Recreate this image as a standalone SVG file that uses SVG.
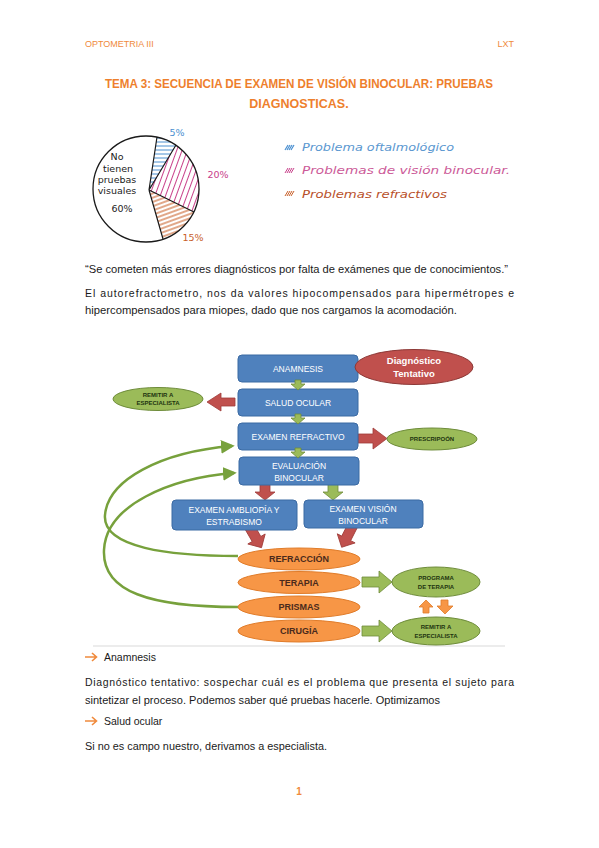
<svg xmlns="http://www.w3.org/2000/svg" width="599" height="848" viewBox="0 0 599 848">
<defs>
<style>
.hdr{font-family:"Liberation Sans",Arial,sans-serif;font-size:9px;fill:#F08A3C}
.ttl{font-family:"Liberation Sans",Arial,sans-serif;font-size:12.5px;font-weight:bold;fill:#EE7F2D;text-anchor:middle}
.body{font-family:"Liberation Sans",Arial,sans-serif;font-size:10.5px;fill:#1a1a1a}
.hand{font-family:"DejaVu Sans",sans-serif;font-size:9.5px;fill:#222;text-anchor:middle}
.leg{font-family:"DejaVu Sans",sans-serif;font-size:10px;font-style:italic}
.box{fill:#4F81BD;stroke:#3B6AA3;stroke-width:1}
.btxt{font-family:"Liberation Sans",Arial,sans-serif;font-size:8.5px;fill:#fff;text-anchor:middle}
.gell{fill:#9BBB59;stroke:#6E8C3A;stroke-width:1}
.gtxt{font-family:"Liberation Sans",Arial,sans-serif;font-size:6px;font-weight:bold;fill:#1E3410;text-anchor:middle}
.oell{fill:#F79646;stroke:#E07C2A;stroke-width:1}
.otxt{font-family:"Liberation Sans",Arial,sans-serif;font-size:9px;font-weight:bold;fill:#4A2A1C;text-anchor:middle}
.red{fill:#C0504D;stroke:#9E3B38;stroke-width:0.8}
.grn{fill:#9BBB59;stroke:#6E8C3A;stroke-width:0.8}
.org{fill:#F79646;stroke:#E07C2A;stroke-width:0.8}
.curve{fill:none;stroke:#77A13C;stroke-width:2.5}
.bul{fill:none;stroke:#F08A3C;stroke-width:1.6}
</style>
<pattern id="hb" width="6" height="4" patternUnits="userSpaceOnUse"><line x1="0" y1="2" x2="6" y2="2" stroke="#4A8FD0" stroke-width="1"/></pattern>
<pattern id="hp" width="5" height="6" patternUnits="userSpaceOnUse" patternTransform="rotate(20)"><line x1="2.5" y1="0" x2="2.5" y2="6" stroke="#C8408A" stroke-width="1"/></pattern>
<pattern id="ho" width="6" height="4" patternUnits="userSpaceOnUse" patternTransform="rotate(-20)"><line x1="0" y1="2" x2="6" y2="2" stroke="#C8602A" stroke-width="1.1"/></pattern>
<marker id="ga" viewBox="0 0 10 10" refX="8" refY="5" markerWidth="5.5" markerHeight="5.5" orient="auto" markerUnits="strokeWidth"><path d="M0,0 L10,5 L0,10 Z" fill="#77A13C"/></marker>
<path id="darr" d="M-3,0 L3,0 L3,4 L7,4 L0,10 L-7,4 L-3,4 Z"/>
<path id="bigd" d="M-5,0 L5,0 L5,8 L10,8 L0,16 L-10,8 L-5,8 Z"/>
<path id="diag" d="M-5,0 L5,0 L5,15 L10,15 L0,25 L-10,15 L-5,15 Z"/>
</defs>
<rect width="599" height="848" fill="#fff"/>

<!-- header -->
<text class="hdr" x="85" y="47">OPTOMETRIA III</text>
<text class="hdr" x="514" y="47" text-anchor="end">LXT</text>
<text class="ttl" x="299" y="88" textLength="388" lengthAdjust="spacingAndGlyphs">TEMA 3: SECUENCIA DE EXAMEN DE VISIÓN BINOCULAR: PRUEBAS</text>
<text class="ttl" x="299" y="108">DIAGNOSTICAS.</text>

<!-- pie chart -->
<g id="pie">
<path d="M149,190 L157,137 A53,53 0 0 1 176,145 Z" fill="url(#hb)"/>
<path d="M149,190 L176,145 A53,53 0 0 1 194,212 Z" fill="url(#hp)"/>
<path d="M149,190 L194,212 A53,53 0 0 1 163,239 Z" fill="url(#ho)"/>
<circle cx="146" cy="189" r="53" fill="none" stroke="#1a1a1a" stroke-width="1.3"/>
<path d="M157,137 L149,190 L176,145 M149,190 L194,212 M149,190 L163,239" fill="none" stroke="#1a1a1a" stroke-width="1.2"/>
<text class="hand" x="117" y="160">No</text>
<text class="hand" x="118" y="172">tienen</text>
<text class="hand" x="117" y="183">pruebas</text>
<text class="hand" x="117" y="194">visuales</text>
<text class="hand" x="122" y="212">60%</text>
<text class="hand" x="177" y="136" style="fill:#4A8FD0">5%</text>
<text class="hand" x="218" y="178" style="fill:#C8408A">20%</text>
<text class="hand" x="193" y="241" style="fill:#C8602A">15%</text>
</g>

<!-- legend -->
<g id="legend">
<path d="M285,150 l3,-5 M287,150 l3,-5 M289,150 l3,-5 M291,150 l3,-5" stroke="#4A8FD0" stroke-width="1.2"/>
<text class="leg" x="302" y="151" fill="#5A97D0" textLength="152" lengthAdjust="spacingAndGlyphs">Problema oftalmológico</text>
<path d="M285,173 l3,-5 M287,173 l3,-5 M289,173 l3,-5 M291,173 l3,-5" stroke="#C8408A" stroke-width="1"/>
<text class="leg" x="302" y="174" fill="#CC5A98" textLength="208" lengthAdjust="spacingAndGlyphs">Problemas de visión binocular.</text>
<path d="M285,196 l3,-5 M287,196 l3,-5 M289,196 l3,-5 M291,196 l3,-5" stroke="#C8602A" stroke-width="1"/>
<text class="leg" x="302" y="198" fill="#B8502A" textLength="145" lengthAdjust="spacingAndGlyphs">Problemas refractivos</text>
</g>

<!-- paragraphs -->
<text class="body" x="85" y="273" textLength="423" lengthAdjust="spacingAndGlyphs">“Se cometen más errores diagnósticos por falta de exámenes que de conocimientos.”</text>
<text class="body" x="85" y="297" textLength="429" lengthAdjust="spacing">El autorefractometro, nos da valores hipocompensados para hipermétropes e</text>
<text class="body" x="85" y="314" textLength="372" lengthAdjust="spacingAndGlyphs">hipercompensados para miopes, dado que nos cargamos la acomodación.</text>

<!-- flowchart bottom frame line -->
<line x1="93" y1="646" x2="505" y2="646" stroke="#e6e6e6" stroke-width="1.5"/>

<!-- connectors -->
<g id="connectors">
<path class="curve" d="M238,556 C170,556 102,548 105,515 C108,480 160,452 232,446" marker-end="url(#ga)"/>
<path class="curve" d="M238,607 C150,607 102,592 104,550 C106,505 170,478 234,473" marker-end="url(#ga)"/>
<path class="red" d="M235,398 L221,398 L221,393 L207,402 L221,411 L221,406 L235,406 Z"/>
<path class="red" d="M358,434 L373,434 L373,428 L387,438.5 L373,449 L373,443 L358,443 Z"/>
<use href="#bigd" class="red" transform="translate(265,484)"/>
<use href="#bigd" class="grn" transform="translate(333,484)"/>
<use href="#diag" class="red" transform="translate(249,526) rotate(-30)"/>
<use href="#diag" class="red" transform="translate(353,525) rotate(27)"/>
<path class="grn" d="M362,577 L379,577 L379,571 L392,582 L379,593 L379,587 L362,587 Z"/>
<path class="grn" d="M362,626 L379,626 L379,620 L392,631 L379,642 L379,636 L362,636 Z"/>
<path class="org" d="M423,613 L423,607 L419,607 L426,600 L433,607 L429,607 L429,613 Z"/>
<path class="org" d="M441,600 L441,606 L437,606 L445,614 L453,606 L448,606 L448,600 Z"/>
</g>

<!-- blue boxes -->
<g id="n-anamnesis"><rect class="box" x="238" y="355" width="120" height="27" rx="4"/><text class="btxt" x="298" y="372">ANAMNESIS</text></g>
<g id="n-salud"><rect class="box" x="238" y="389" width="120" height="27" rx="4"/><text class="btxt" x="298" y="406">SALUD OCULAR</text></g>
<g id="n-refractivo"><rect class="box" x="238" y="423" width="120" height="27" rx="4"/><text class="btxt" x="298" y="440">EXAMEN REFRACTIVO</text></g>
<g id="n-evaluacion"><rect class="box" x="239" y="457" width="120" height="28" rx="4"/><text class="btxt" x="299" y="469">EVALUACIÓN</text><text class="btxt" x="299" y="481">BINOCULAR</text></g>
<g id="n-ambliopia"><rect class="box" x="172" y="500" width="125" height="30" rx="4"/><text class="btxt" x="234" y="513">EXAMEN AMBLIOPÍA Y</text><text class="btxt" x="234" y="525">ESTRABISMO</text></g>
<g id="n-vision"><rect class="box" x="304" y="500" width="119" height="28" rx="4"/><text class="btxt" x="363" y="512">EXAMEN VISIÓN</text><text class="btxt" x="363" y="524">BINOCULAR</text></g>

<!-- small green arrows between boxes -->
<g id="box-arrows">
<use href="#darr" class="grn" transform="translate(298,380)"/>
<use href="#darr" class="grn" transform="translate(298,414)"/>
<use href="#darr" class="grn" transform="translate(298,448)"/>
</g>

<!-- ellipses -->
<g id="n-diagnostico"><ellipse cx="414" cy="367" rx="59" ry="17.5" fill="#C0504D" stroke="#8C3836" stroke-width="1"/><text x="414" y="364" font-family="Liberation Sans,Arial,sans-serif" font-size="9.5" font-weight="bold" fill="#fff" text-anchor="middle">Diagnóstico</text><text x="414" y="377" font-family="Liberation Sans,Arial,sans-serif" font-size="9.5" font-weight="bold" fill="#fff" text-anchor="middle">Tentativo</text></g>
<g id="n-remitir1"><ellipse class="gell" cx="158" cy="399" rx="45" ry="11.5"/><text class="gtxt" x="158" y="397">REMITIR A</text><text class="gtxt" x="158" y="405">ESPECIALISTA</text></g>
<g id="n-prescripcion"><ellipse class="gell" cx="432" cy="439" rx="45" ry="11"/><text class="gtxt" x="432" y="441">PRESCRIPOÓN</text></g>
<g id="n-refraccion"><ellipse class="oell" cx="299" cy="559" rx="61" ry="11"/><text class="otxt" x="299" y="562">REFRACCIÓN</text></g>
<g id="n-terapia"><ellipse class="oell" cx="299" cy="582.5" rx="61" ry="11"/><text class="otxt" x="299" y="586">TERAPIA</text></g>
<g id="n-prismas"><ellipse class="oell" cx="299" cy="607" rx="61" ry="11"/><text class="otxt" x="299" y="610">PRISMAS</text></g>
<g id="n-cirugia"><ellipse class="oell" cx="299" cy="631" rx="61" ry="11"/><text class="otxt" x="299" y="634">CIRUGÍA</text></g>
<g id="n-programa"><ellipse class="gell" cx="436" cy="582" rx="44" ry="15"/><text class="gtxt" x="436" y="580">PROGRAMA</text><text class="gtxt" x="436" y="589">DE TERAPIA</text></g>
<g id="n-remitir2"><ellipse class="gell" cx="436" cy="631" rx="44" ry="14"/><text class="gtxt" x="436" y="629">REMITIR A</text><text class="gtxt" x="436" y="638">ESPECIALISTA</text></g>

<!-- bottom text -->
<path class="bul" d="M85,657 H96 M92,653 L96.5,657 L92,661"/>
<text class="body" x="104" y="661">Anamnesis</text>
<text class="body" x="85" y="686" textLength="429" lengthAdjust="spacing">Diagnóstico tentativo: sospechar cuál es el problema que presenta el sujeto para</text>
<text class="body" x="85" y="704" textLength="355" lengthAdjust="spacingAndGlyphs">sintetizar el proceso. Podemos saber qué pruebas hacerle. Optimizamos</text>
<path class="bul" d="M85,721 H96 M92,717 L96.5,721 L92,725"/>
<text class="body" x="104" y="725">Salud ocular</text>
<text class="body" x="85" y="750" textLength="242" lengthAdjust="spacingAndGlyphs">Si no es campo nuestro, derivamos a especialista.</text>
<text x="299" y="795" font-family="Liberation Sans,Arial,sans-serif" font-size="10" font-weight="bold" fill="#F08A3C" text-anchor="middle">1</text>
</svg>
